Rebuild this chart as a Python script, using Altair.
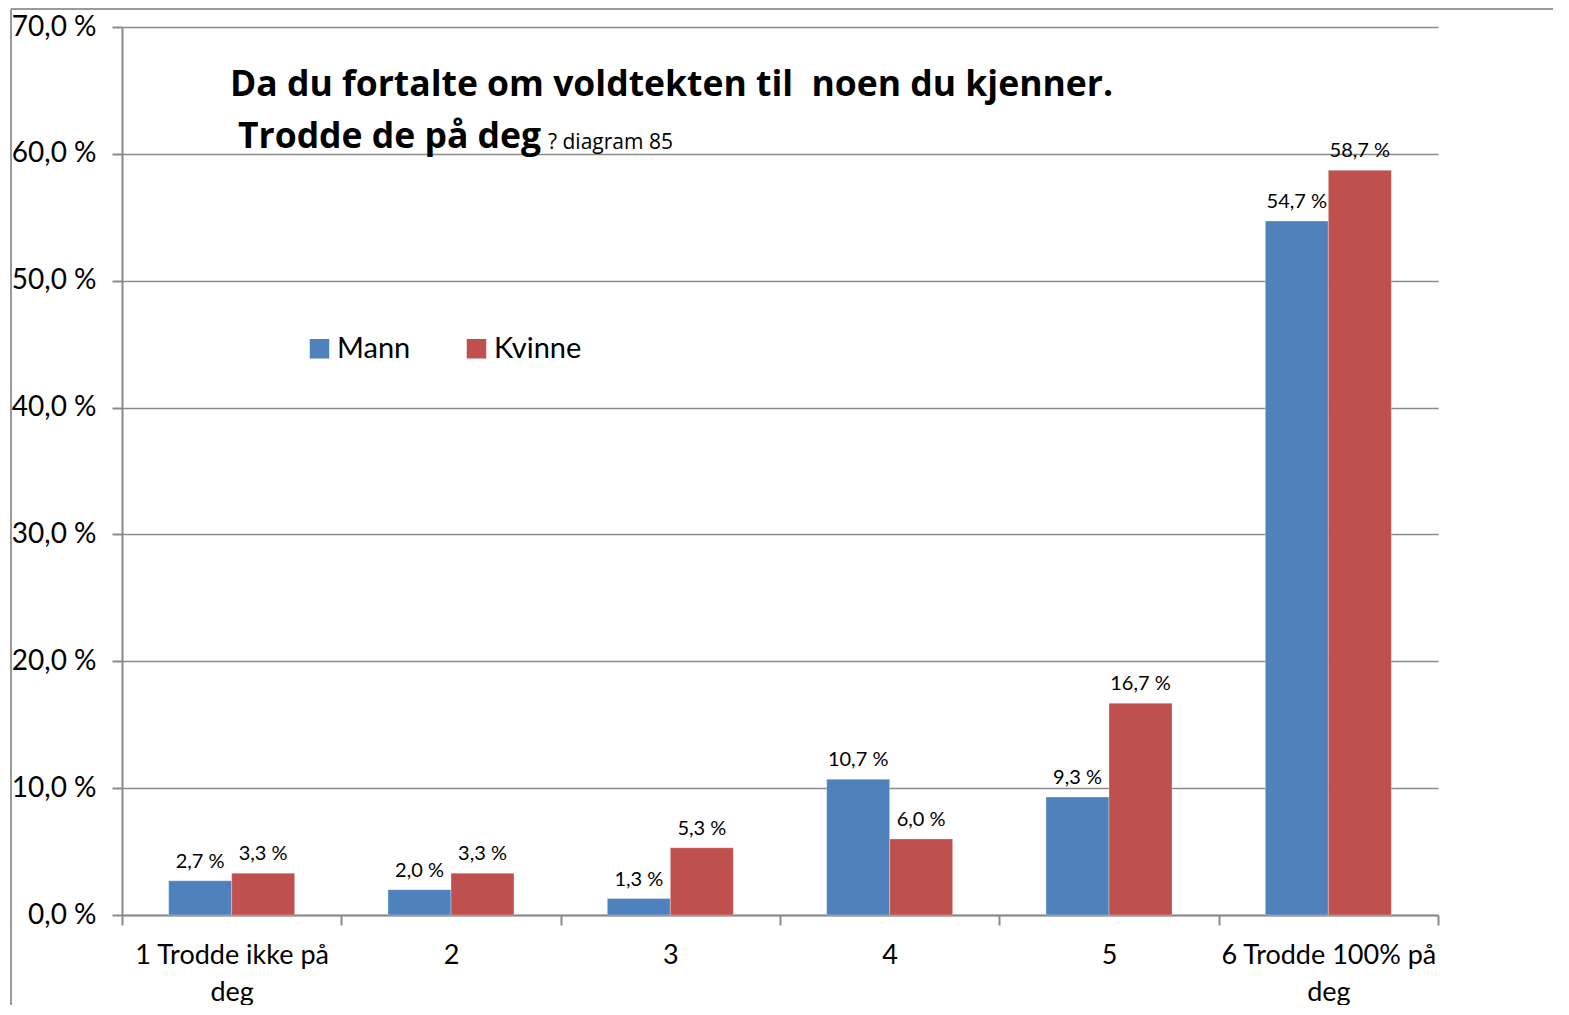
import altair as alt
import pandas as pd

categories = ["1 Trodde ikke på deg", "2", "3", "4", "5", "6 Trodde 100% på deg"]
series = ["Mann", "Kvinne"]
mann = [2.7, 2.0, 1.3, 10.7, 9.3, 54.7]
kvinne = [3.3, 3.3, 5.3, 6.0, 16.7, 58.7]
colors = ["#4F81BD", "#C0504D"]
y_ticks = [0, 10, 20, 30, 40, 50, 60, 70]
title1 = "Da du fortalte om voldtekten til\u00a0 noen du kjenner."
title2 = "Trodde de på deg"
title3 = "? diagram 85"

rows = []
for i, c in enumerate(categories):
    for s, vals in (("Mann", mann), ("Kvinne", kvinne)):
        v = vals[i]
        rows.append({"kategori": c, "kjonn": s, "verdi": v,
                     "etikett": f"{v:.1f} %".replace(".", ",")})
df = pd.DataFrame(rows)

FONT = "Lato"
TFONT = "Open Sans"
W, H = 1316, 888

x_enc = alt.X("kategori:N", sort=categories,
              scale=alt.Scale(paddingInner=0, paddingOuter=0),
              axis=alt.Axis(title=None, labelAngle=0, labelFontSize=27, labelFont=FONT,
                            labelColor="#000000", labelPadding=17, labelLineHeight=37,
                            labelLimit=600, grid=False,
                            labelExpr="split(replace(datum.label, ' deg', '|deg'), '|')",
                            tickBand="extent", tickSize=10, tickColor="#8a8a8a",
                            tickWidth=2, domainColor="#8a8a8a", domainWidth=2,
                            labelBaseline="top"))
y_enc = alt.Y("verdi:Q", scale=alt.Scale(domain=[0, 70], nice=False),
              axis=alt.Axis(title=None, values=y_ticks, labelFontSize=28, labelFont=FONT,
                            labelColor="#000000", labelPadding=16,
                            labelExpr="replace(format(datum.value, '.1f'), '.', ',') + ' %'",
                            tickSize=10, tickColor="#8a8a8a", tickWidth=2,
                            domainColor="#8a8a8a", domainWidth=2,
                            grid=True, gridColor="#8a8a8a", gridWidth=1.5))
off_scale = alt.Scale(paddingInner=0, paddingOuter=0.7407)
xoff = alt.XOffset("kjonn:N", sort=series, scale=off_scale)

base = alt.Chart(df)
bars = base.mark_bar(stroke="#ffffff", strokeWidth=0.5, strokeOpacity=0.6).encode(
    x=x_enc, xOffset=xoff, y=y_enc,
    color=alt.Color("kjonn:N", sort=series,
                    scale=alt.Scale(domain=series, range=colors),
                    legend=alt.Legend(title=None, orient="none", legendX=183, legendY=307,
                                      direction="horizontal", symbolType="square",
                                      symbolSize=380, symbolStrokeWidth=0,
                                      labelFontSize=29, labelFont=FONT, labelColor="#000000",
                                      columnPadding=51, labelOffset=3)),
)
labels = base.mark_text(baseline="bottom", dy=-9, fontSize=20, font=FONT, color="#000000").encode(
    x=alt.X("kategori:N", sort=categories), xOffset=alt.XOffset("kjonn:N", sort=series),
    y="verdi:Q", text="etikett:N",
)

one = alt.Data(values=[{"a": 1}])
t1 = alt.Chart(one).mark_text(align="left", baseline="alphabetic", fontSize=35.5, fontWeight="bold",
                              font=TFONT, color="#000000").encode(
    x=alt.value(108), y=alt.value(69), text=alt.value(title1))
t2 = alt.Chart(one).mark_text(align="left", baseline="alphabetic", fontSize=35.5, fontWeight="bold",
                              font=TFONT, color="#000000").encode(
    x=alt.value(116), y=alt.value(121), text=alt.value(title2))
t3 = alt.Chart(one).mark_text(align="left", baseline="alphabetic", fontSize=21,
                              font=TFONT, color="#000000").encode(
    x=alt.value(426), y=alt.value(122), text=alt.value(title3))

frame_left = alt.Chart(one).mark_rule(color="#9a9a9a", strokeWidth=2).encode(
    x=alt.value(-111), y=alt.value(-18), y2=alt.value(1100))
frame_top = alt.Chart(one).mark_rule(color="#9a9a9a", strokeWidth=2).encode(
    x=alt.value(-111), x2=alt.value(1500), y=alt.value(-18))

chart = alt.layer(bars, labels, t1, t2, t3, frame_left, frame_top).properties(
    width=W, height=H,
    autosize=alt.AutoSizeParams(type="none"),
    padding={"left": 114, "top": 19, "right": 115, "bottom": 90},
).configure(background="#ffffff").configure_view(stroke="transparent", strokeWidth=0)

chart.save("out.html", embed_options={"renderer": "svg", "actions": False})
